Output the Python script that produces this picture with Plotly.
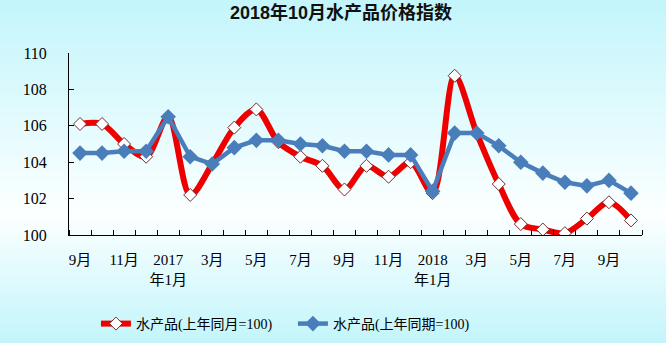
import plotly.graph_objects as go

# Monthly aquatic product price index, Sep 2016 - Oct 2018
months = ["2016-09", "2016-10", "2016-11", "2016-12", "2017-01", "2017-02", "2017-03",
          "2017-04", "2017-05", "2017-06", "2017-07", "2017-08", "2017-09", "2017-10",
          "2017-11", "2017-12", "2018-01", "2018-02", "2018-03", "2018-04", "2018-05",
          "2018-06", "2018-07", "2018-08", "2018-09", "2018-10"]
same_month = [106.1, 106.1, 105.0, 104.3, 106.5, 102.2, 103.9, 105.9, 106.9, 105.1,
              104.3, 103.8, 102.5, 103.8, 103.2, 104.0, 102.3, 108.75, 105.6, 102.8,
              100.6, 100.3, 100.1, 100.9, 101.8, 100.8]
same_period = [104.5, 104.5, 104.6, 104.6, 106.5, 104.3, 103.9, 104.8, 105.2, 105.2,
               105.0, 104.9, 104.6, 104.6, 104.4, 104.4, 102.4, 105.6, 105.6, 104.9,
               104.0, 103.4, 102.9, 102.7, 103.0, 102.3]
tick_labels = ["9月", "11月", "2017<br>年1月", "3月", "5月", "7月", "9月", "11月",
               "2018<br>年1月", "3月", "5月", "7月", "9月"]
name_a = "水产品(上年同月=100)"
name_b = "水产品(上年同期=100)"
title = "2018年10月水产品价格指数"

x = list(range(len(months)))
SERIF = "Liberation Serif, Times New Roman, Noto Sans CJK SC"
W, H = 666, 343
ML, MR, MT, MB = 69, 24, 53, 108

fig = go.Figure()
fig.add_trace(go.Scatter(
    x=x, y=same_month, name=name_a, mode="lines+markers",
    line=dict(color="#ee0000", width=6, shape="spline", smoothing=0.9),
    marker=dict(symbol="diamond", size=10, color="white",
                line=dict(color="#7a2a2a", width=1)),
    customdata=months,
))
fig.add_trace(go.Scatter(
    x=x, y=same_period, name=name_b, mode="lines+markers",
    line=dict(color="#4a7ebb", width=4.5),
    marker=dict(symbol="diamond", size=12, color="#4a7ebb"),
    customdata=months,
))

# vertical cyan-white-cyan background gradient, built from thin bands
ph = H - MT - MB
top_c = (194, 245, 251)
mid_c = (252, 255, 255)
bot_c = (194, 245, 251)
mid_y = 215
n = 70
shapes = []
for i in range(n):
    y0 = H * i / n
    y1 = H * (i + 1) / n
    yc = (y0 + y1) / 2
    if yc < mid_y:
        t = yc / mid_y
        c = [top_c[k] + (mid_c[k] - top_c[k]) * t for k in range(3)]
    else:
        t = (yc - mid_y) / (H - mid_y)
        c = [mid_c[k] + (bot_c[k] - mid_c[k]) * t for k in range(3)]
    col = "rgb(%d,%d,%d)" % tuple(round(v) for v in c)
    shapes.append(dict(
        type="rect", xref="paper", yref="paper", layer="below",
        x0=-ML / (W - ML - MR) - 0.01, x1=1 + MR / (W - ML - MR) + 0.01,
        y0=(H - MB - y1) / ph - 0.002, y1=(H - MB - y0) / ph + 0.002,
        line=dict(width=0), fillcolor=col,
    ))

fig.update_layout(
    width=W, height=H,
    margin=dict(l=ML, r=MR, t=MT, b=MB, autoexpand=False),
    paper_bgcolor="rgba(0,0,0,0)", plot_bgcolor="rgba(0,0,0,0)",
    shapes=shapes,
    showlegend=True,
    legend=dict(
        orientation="h", x=0.047, xanchor="left",
        yref="container", y=1 - 324 / H, yanchor="middle",
        font=dict(family=SERIF, size=14, color="black"),
        bgcolor="rgba(0,0,0,0)", entrywidth=152, itemwidth=30,
    ),
    annotations=[dict(
        text="<b>" + title + "</b>", xref="paper", yref="paper",
        x=(341 - ML) / (W - ML - MR), y=(H - MB - 13) / ph,
        xanchor="center", yanchor="middle", showarrow=False,
        font=dict(family="Liberation Sans, Arial, Noto Sans CJK SC", size=18, color="#111"),
    )],
    xaxis=dict(
        range=[-0.5, len(months) - 0.5], tickmode="array",
        tickvals=x[::2], ticktext=tick_labels, ticks="",
        showline=True, linecolor="black", linewidth=1, showgrid=False, zeroline=False,
        tickfont=dict(family=SERIF, size=15, color="black"), ticklabelstandoff=11,
        minor=dict(tickmode="linear", tick0=-0.5, dtick=1, ticks="inside",
                   ticklen=5, tickcolor="black", tickwidth=1, showgrid=False),
    ),
    yaxis=dict(
        range=[100, 110], tickmode="linear", tick0=100, dtick=2,
        ticks="inside", ticklen=5, tickcolor="black",
        showline=True, linecolor="black", linewidth=1, showgrid=False, zeroline=False,
        tickfont=dict(family=SERIF, size=16, color="black"), ticklabelstandoff=18,
    ),
)

fig.write_html("out.html")
